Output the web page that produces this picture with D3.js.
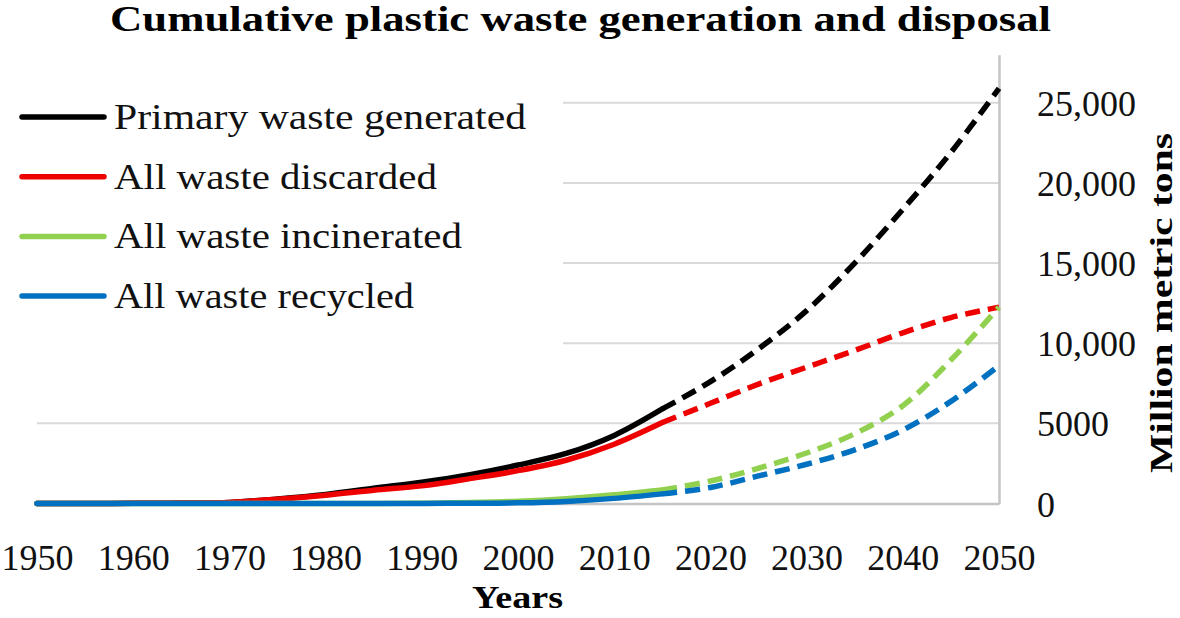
<!DOCTYPE html>
<html><head><meta charset="utf-8">
<script src="https://cdn.jsdelivr.net/npm/d3@7"></script>
<style>body{margin:0;background:#fff}svg{display:block}</style>
</head><body>
<svg id="chart" width="1180" height="618"></svg>
<script>
// ---- data (million metric tons, cumulative) ----
const histYears = [1950,1955,1960,1965,1970,1975,1980,1985,1990,1995,2000,2005,2010,2015];
const projYears = [2015,2020,2025,2030,2035,2040,2045,2050];

const primaryHist     = [0,0,10,30,70,280,560,950,1330,1800,2400,3120,4250,5900];
const discardedHist   = [0,0,10,30,70,270,520,830,1100,1550,2050,2700,3700,5050];
const incineratedHist = [0,0,0,0,0,0,0,5,20,60,140,300,540,850];
const recycledHist    = [0,0,0,0,0,0,0,0,5,15,40,130,320,600];

const primaryProj     = [5900,7600,9650,12030,15000,18350,21900,25900];
const discardedProj   = [5050,6250,7450,8500,9550,10650,11600,12250];
const incineratedProj = [850,1400,2200,3150,4350,6100,8950,12250];
const recycledProj    = [600,1000,1720,2450,3350,4580,6370,8600];

const seriesNames  = ["Primary waste generated","All waste discarded","All waste incinerated","All waste recycled"];
const seriesColors = ["#000000","#ee0000","#92d050","#0070c0"];

const xTicks = [1950,1960,1970,1980,1990,2000,2010,2020,2030,2040,2050];
const yTicks = [0,5000,10000,15000,20000,25000];
const yTickLabels = ["0","5000","10,000","15,000","20,000","25,000"];

const title = "Cumulative plastic waste generation and disposal";
const xTitle = "Years";
const yTitle = "Million metric tons";

// ---- drawing ----
const svg = d3.select("#chart");
const FONT = "'Liberation Serif','Times New Roman',serif";
const x = d3.scaleLinear().domain([1950,2050]).range([37,999]);
const y = d3.scaleLinear().domain([0,28000]).range([503.5,54.7]);

// gridlines
svg.append("g").selectAll("line").data(yTicks.filter(d=>d>0)).join("line")
  .attr("x1",x(1950)).attr("x2",x(2050))
  .attr("y1",d=>y(d)).attr("y2",d=>y(d))
  .attr("stroke","#d9d9d9").attr("stroke-width",2);

// legend background (covers gridlines)
svg.append("rect").attr("x",0).attr("y",86).attr("width",563).attr("height",266).attr("fill","#fff");

// x axis
const gx = svg.append("g").attr("transform",`translate(0,${y(0)})`)
  .call(d3.axisBottom(x).tickValues(xTicks).tickFormat(d3.format("d")).tickSize(0).tickSizeOuter(0).tickPadding(41));
gx.select(".domain").attr("stroke","#c4c4c4").attr("stroke-width",2.5);
gx.selectAll("text").attr("font-family",FONT).attr("font-size",36).attr("fill","#111");

// y axis (right)
const gy = svg.append("g").attr("transform",`translate(${x(2050)},0)`)
  .call(d3.axisRight(y).tickValues(yTicks).tickFormat((d,i)=>yTickLabels[i]).tickSize(0).tickSizeOuter(0).tickPadding(38));
gy.select(".domain").attr("stroke","#c4c4c4").attr("stroke-width",2.5);
gy.selectAll("text").attr("font-family",FONT).attr("font-size",36).attr("fill","#111").attr("dy","0.35em");

// lines
const hist = [primaryHist,discardedHist,incineratedHist,recycledHist];
const proj = [primaryProj,discardedProj,incineratedProj,recycledProj];
const line = d3.line().x(d=>x(d[0])).y(d=>y(Math.max(0,d[1]))).curve(d3.curveCatmullRom.alpha(0.5));
const lg = svg.append("g").attr("fill","none");
hist.forEach((vals,i)=>{
  lg.append("path").datum(histYears.map((yr,j)=>[yr,vals[j]]))
    .attr("d",line).attr("stroke",seriesColors[i]).attr("stroke-width",5.5)
    .attr("stroke-linecap","round").attr("stroke-linejoin","round");
});
proj.forEach((vals,i)=>{
  lg.append("path").datum(projYears.map((yr,j)=>[yr,vals[j]]))
    .attr("d",line).attr("stroke",seriesColors[i]).attr("stroke-width",5.5)
    .attr("stroke-dasharray","15,8").attr("stroke-linecap","butt");
});

// legend
const legendWidths = [412,323,348,300];
const leg = svg.append("g");
seriesNames.forEach((name,i)=>{
  const cy = 117 + i*59.7;
  leg.append("line").attr("x1",22).attr("x2",104).attr("y1",cy).attr("y2",cy)
    .attr("stroke",seriesColors[i]).attr("stroke-width",5.5).attr("stroke-linecap","round");
  leg.append("text").attr("x",114).attr("y",cy+12).text(name)
    .attr("font-family",FONT).attr("font-size",36).attr("fill","#111")
    .attr("textLength",legendWidths[i]).attr("lengthAdjust","spacingAndGlyphs");
});

// titles
svg.append("text").attr("x",110).attr("y",31).text(title)
  .attr("font-family",FONT).attr("font-size",35).attr("font-weight","bold").attr("fill","#000")
  .attr("textLength",941).attr("lengthAdjust","spacingAndGlyphs");
svg.append("text").attr("x",472).attr("y",608).text(xTitle)
  .attr("font-family",FONT).attr("font-size",32).attr("font-weight","bold").attr("fill","#000")
  .attr("textLength",91).attr("lengthAdjust","spacingAndGlyphs");
svg.append("text").attr("transform","translate(1172,303) rotate(-90)").attr("text-anchor","middle")
  .text(yTitle)
  .attr("font-family",FONT).attr("font-size",32).attr("font-weight","bold").attr("fill","#000")
  .attr("textLength",340).attr("lengthAdjust","spacingAndGlyphs");
</script>
</body></html>
